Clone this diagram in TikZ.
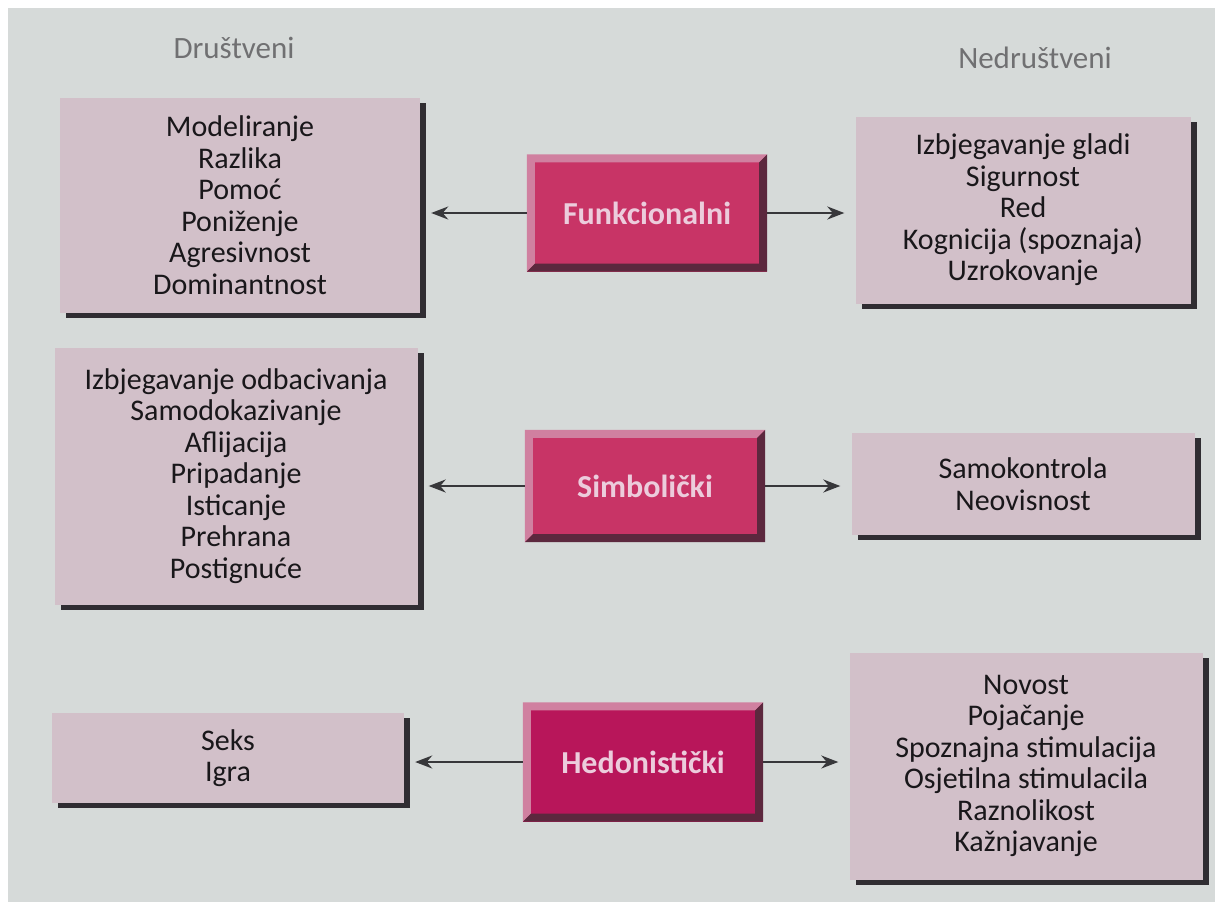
\documentclass[tikz,border=0pt]{standalone}
\usepackage{fontspec}
\setmainfont{Carlito}
\usetikzlibrary{arrows.meta,shadows}
\definecolor{pagegray}{RGB}{214,218,217}
\definecolor{boxpink}{RGB}{210,192,201}
\definecolor{shadowgray}{RGB}{48,45,50}
\definecolor{textdark}{RGB}{25,23,26}
\definecolor{headgray}{RGB}{112,112,114}
\definecolor{arrowgray}{RGB}{55,55,58}
\definecolor{funmag}{RGB}{200,52,102}
\definecolor{hedmag}{RGB}{184,22,90}
\definecolor{labelpink}{RGB}{236,204,220}
\definecolor{bevlight}{RGB}{208,128,160}
\definecolor{bevdark}{RGB}{92,40,62}

\begin{document}
\begin{tikzpicture}
[x=1pt,y=-1pt,
motive/.style={rectangle,fill=boxpink,inner sep=0pt,align=center,text=textdark,
  font=\fontsize{30}{31.5}\selectfont,
  drop shadow={shadow xshift=6pt,shadow yshift=-5pt,fill=shadowgray,opacity=1}},
kind/.style={rectangle,fill=funmag,inner sep=0pt,minimum width=240pt},
kindlabel/.style={text=labelpink,font=\fontsize{32}{34}\selectfont\bfseries},
heading/.style={text=headgray,font=\fontsize{31}{32}\selectfont},
link/.style={draw=arrowgray,line width=2pt,-{Stealth[length=17pt,width=13pt]},shorten >=11pt}]
% page
\fill[white] (0,0) rectangle (1215,902);
\fill[pagegray] (8,8) rectangle (1215,902);
% headings
\node (dru) at (234,48) [heading] {Društveni};
\node (nedru) at (1035,58) [heading] {Nedruštveni};
% left column
\node (lone) at (240,205) [motive,minimum width=360pt,minimum height=215pt]
  {Modeliranje\\Razlika\\Pomoć\\Poniženje\\Agresivnost\\Dominantnost};
\node (ltwo) at (236,476) [motive,minimum width=363pt,minimum height=257pt]
  {Izbjegavanje odbacivanja\\Samodokazivanje\\Aflijacija\\Pripadanje\\Isticanje\\Prehrana\\Postignuće};
\node (lthree) at (228,758) [motive,minimum width=352pt,minimum height=90pt]
  {Seks\\Igra};
% right column
\node (rone) at (1023,210) [motive,minimum width=335pt,minimum height=187pt]
  {Izbjegavanje gladi\\Sigurnost\\Red\\Kognicija (spoznaja)\\Uzrokovanje};
\node (rtwo) at (1023,484) [motive,minimum width=343pt,minimum height=102pt]
  {Samokontrola\\Neovisnost};
\node (rthree) at (1026,766) [motive,minimum width=353pt,minimum height=227pt]
  {Novost\\Pojačanje\\Spoznajna stimulacija\\Osjetilna stimulacila\\Raznolikost\\Kažnjavanje};
% middle column
\node (fun) at (647,213) [kind,minimum height=117pt] {};
\node (sim) at (645,486) [kind,minimum height=112pt] {};
\node (hed) at (643,762) [kind,minimum height=119pt,fill=hedmag] {};
\foreach \n in {fun,sim,hed} {
  \fill[bevlight] (\n.south west) -- (\n.north west) -- (\n.north east)
    -- ([shift={(-8,8)}]\n.north east) -- ([shift={(8,8)}]\n.north west)
    -- ([shift={(8,-8)}]\n.south west) -- cycle;
  \fill[bevdark] (\n.south west) -- (\n.south east) -- (\n.north east)
    -- ([shift={(-8,8)}]\n.north east) -- ([shift={(-8,-8)}]\n.south east)
    -- ([shift={(8,-8)}]\n.south west) -- cycle;
}
\node at (fun) [kindlabel] {Funkcionalni};
\node at (sim) [kindlabel] {Simbolički};
\node at (hed) [kindlabel] {Hedonistički};
% arrows
\draw[link] (fun.west) -- (fun.west -| lone.east);
\draw[link] (fun.east) -- (fun.east -| rone.west);
\draw[link] (sim.west) -- (sim.west -| ltwo.east);
\draw[link] (sim.east) -- (sim.east -| rtwo.west);
\draw[link] (hed.west) -- (hed.west -| lthree.east);
\draw[link] (hed.east) -- (hed.east -| rthree.west);
\end{tikzpicture}
\end{document}
